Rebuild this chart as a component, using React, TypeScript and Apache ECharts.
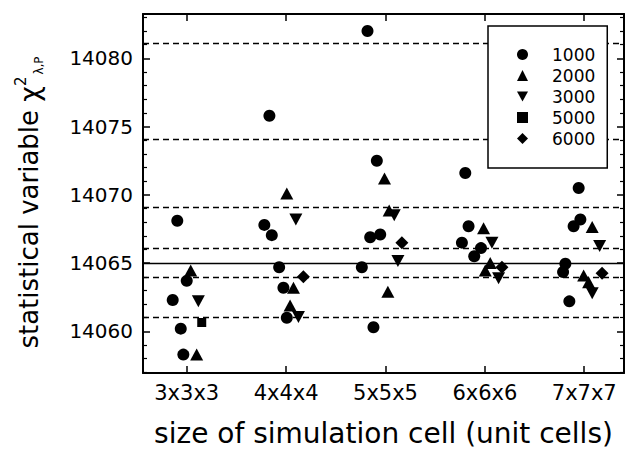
import React, { useEffect, useRef } from "react";
import * as echarts from "echarts";

const categories = ["3x3x3", "4x4x4", "5x5x5", "6x6x6", "7x7x7"];
const cellSizes = [3, 4, 5, 6, 7];
const yMajorTicks = [14060, 14065, 14070, 14075, 14080];
const yMinorTicks = [
  14057, 14058, 14059, 14061, 14062, 14063, 14064, 14066, 14067, 14068, 14069,
  14071, 14072, 14073, 14074, 14076, 14077, 14078, 14079, 14081, 14082, 14083,
];

// [cell size (with small horizontal offset), chi^2 value]
const steps1000 = [
  [2.905, 14068.1], [3.0, 14063.7], [2.859, 14062.3], [2.94, 14060.2], [2.966, 14058.3],
  [3.832, 14075.8], [3.781, 14067.8], [3.856, 14067.05], [3.93, 14064.7], [3.973, 14063.2], [4.007, 14061.0],
  [4.819, 14082.0], [4.913, 14072.5], [4.846, 14066.9], [4.947, 14067.1], [4.762, 14064.7], [4.879, 14060.3],
  [5.803, 14071.6], [5.836, 14067.7], [5.769, 14066.5], [5.961, 14066.1], [5.893, 14065.5],
  [6.944, 14070.5], [6.961, 14068.2], [6.893, 14067.7], [6.81, 14064.95], [6.787, 14064.35], [6.85, 14062.2],
];
const steps2000 = [
  [3.04, 14064.45], [3.1, 14058.3],
  [4.007, 14070.1], [4.074, 14063.2], [4.04, 14061.9],
  [4.99, 14071.2], [5.037, 14068.85], [5.024, 14062.9],
  [5.987, 14067.55], [6.054, 14065.0], [6.004, 14064.45],
  [7.08, 14067.65], [6.994, 14064.1], [7.044, 14063.6],
];
const steps3000 = [
  [3.117, 14062.2],
  [4.098, 14068.2], [4.124, 14061.05],
  [5.088, 14068.5], [5.125, 14065.15],
  [6.071, 14066.5], [6.138, 14063.9],
  [7.155, 14066.25], [7.08, 14062.8],
];
const steps5000 = [[3.151, 14060.65]];
const steps6000 = [
  [4.174, 14064.0],
  [5.165, 14066.5],
  [6.172, 14064.7],
  [7.179, 14064.25],
];

const dashedLevels = [14061.0, 14064.0, 14066.1, 14069.1, 14074.1, 14081.1];
const solidLevel = 14065.0;

const FONT = "DejaVu Sans";

export default function App() {
  const ref = useRef<HTMLDivElement>(null);
  useEffect(() => {
    document.body.style.margin = "0";
    if (!ref.current) return;
    const chart = echarts.init(ref.current, null, { renderer: "svg" });
    const axisMin = 14056.95;
    const axisMax = 14083.25;
    const xMin = 2.56;
    const xMax = 7.4;
    const lineCol = "#000";
    const markData: any[] = dashedLevels.map((v) => ({
      yAxis: v,
      lineStyle: { type: [6, 4], width: 1.3, color: lineCol },
    }));
    markData.push({ yAxis: solidLevel, lineStyle: { type: "solid", width: 1.3, color: lineCol } });

    const common = { type: "scatter", xAxisIndex: 0, yAxisIndex: 0, itemStyle: { color: "#000", opacity: 1 } };

    chart.setOption({
      animation: false,
      backgroundColor: "#fff",
      grid: { left: 143, right: 2, top: 14, bottom: 76, containLabel: false, outerBoundsMode: "none" },
      legend: {
        orient: "vertical",
        left: 488,
        top: 26,
        data: [
          { name: "1000", icon: "circle" },
          { name: "2000", icon: "triangle" },
          { name: "3000", icon: "path://M0,0 L12,0 L6,11 Z" },
          { name: "5000", icon: "path://M0,0 L12,0 L12,12 L0,12 Z M2,2" },
          { name: "6000", icon: "diamond" },
        ],
        backgroundColor: "#fff",
        borderColor: "#000",
        borderWidth: 1.5,
        borderRadius: 0,
        padding: [20, 12, 21, 29],
        itemWidth: 11,
        itemHeight: 11,
        itemGap: 4,
        itemStyle: { color: "#000" },
        textStyle: { fontFamily: FONT, fontSize: 17, color: "#000", padding: [0, 0, 0, 19] },
      },
      xAxis: [
        {
          type: "value",
          min: xMin,
          max: xMax,
          position: "bottom",
          axisLine: { show: true, lineStyle: { color: lineCol, width: 2 } },
          axisTick: { show: true, inside: true, length: 7, customValues: cellSizes, lineStyle: { color: lineCol, width: 1.5 } },
          axisLabel: {
            customValues: cellSizes,
            formatter: (v: number) => categories[cellSizes.indexOf(Math.round(v))] ?? "",
            fontFamily: FONT,
            fontSize: 21,
            color: "#000",
            margin: 9,
          },
          splitLine: { show: false },
          name: "size of simulation cell (unit cells)",
          nameLocation: "middle",
          nameGap: 46,
          nameTextStyle: { fontFamily: FONT, fontSize: 28, color: "#000" },
        },
        {
          type: "value",
          min: xMin,
          max: xMax,
          position: "top",
          axisLine: { show: true, lineStyle: { color: lineCol, width: 2 } },
          axisTick: { show: true, inside: true, length: 7, customValues: cellSizes, lineStyle: { color: lineCol, width: 1.5 } },
          axisLabel: { show: false },
          splitLine: { show: false },
        },
      ],
      yAxis: [
        {
          type: "value",
          min: axisMin,
          max: axisMax,
          position: "left",
          axisLine: { show: true, lineStyle: { color: lineCol, width: 2 } },
          axisTick: { show: true, inside: true, length: 7, customValues: yMajorTicks, lineStyle: { color: lineCol, width: 1.5 } },
          axisLabel: {
            customValues: yMajorTicks,
            formatter: (v: number) => String(Math.round(v)),
            fontFamily: FONT,
            fontSize: 20,
            color: "#000",
            margin: 10,
          },
          splitLine: { show: false },
          name: "statistical variable {chi|χ}{sup|2}{sub|λ,P}",
          nameLocation: "middle",
          nameRotate: 90,
          nameGap: 98,
          nameTextStyle: {
            fontFamily: FONT,
            fontSize: 26,
            color: "#000",
            lineHeight: 32,
            padding: [0, 18, 0, 0],
            rich: {
              chi: { fontFamily: FONT, fontSize: 27, color: "#000", lineHeight: 32 },
              sup: { fontFamily: FONT, fontSize: 15, color: "#000", verticalAlign: "top", lineHeight: 32 },
              sub: { fontFamily: FONT, fontSize: 12, color: "#000", verticalAlign: "bottom", lineHeight: 32, padding: [0, 0, 0, 2] },
            },
          },
        },
        {
          type: "value",
          min: axisMin,
          max: axisMax,
          position: "left",
          axisLine: { show: false },
          axisTick: { show: true, inside: true, length: 4, customValues: yMinorTicks, lineStyle: { color: lineCol, width: 1.2 } },
          axisLabel: { show: false },
          splitLine: { show: false },
        },
        {
          type: "value",
          min: axisMin,
          max: axisMax,
          position: "right",
          axisLine: { show: true, lineStyle: { color: lineCol, width: 2 } },
          axisTick: { show: true, inside: true, length: 7, customValues: yMajorTicks, lineStyle: { color: lineCol, width: 1.5 } },
          axisLabel: { show: false },
          splitLine: { show: false },
        },
        {
          type: "value",
          min: axisMin,
          max: axisMax,
          position: "right",
          axisLine: { show: false },
          axisTick: { show: true, inside: true, length: 4, customValues: yMinorTicks, lineStyle: { color: lineCol, width: 1.2 } },
          axisLabel: { show: false },
          splitLine: { show: false },
        },
      ],
      series: [
        {
          ...common,
          name: "1000",
          symbol: "circle",
          symbolSize: 12,
          data: steps1000,
          z: 3,
          markLine: {
            silent: true,
            symbol: ["none", "none"],
            label: { show: false },
            data: markData,
            z: 1,
          },
        },
        { ...common, name: "2000", symbol: "triangle", symbolSize: [13, 12], data: steps2000, z: 3 },
        { ...common, name: "3000", symbol: "triangle", symbolRotate: 180, symbolSize: [13, 12], data: steps3000, z: 3 },
        { ...common, name: "5000", symbol: "rect", symbolSize: 9, data: steps5000, z: 3 },
        { ...common, name: "6000", symbol: "diamond", symbolSize: [13, 13], data: steps6000, z: 3 },
      ],
    });
    return () => chart.dispose();
  }, []);
  return <div ref={ref} style={{ width: 626, height: 449 }} />;
}
